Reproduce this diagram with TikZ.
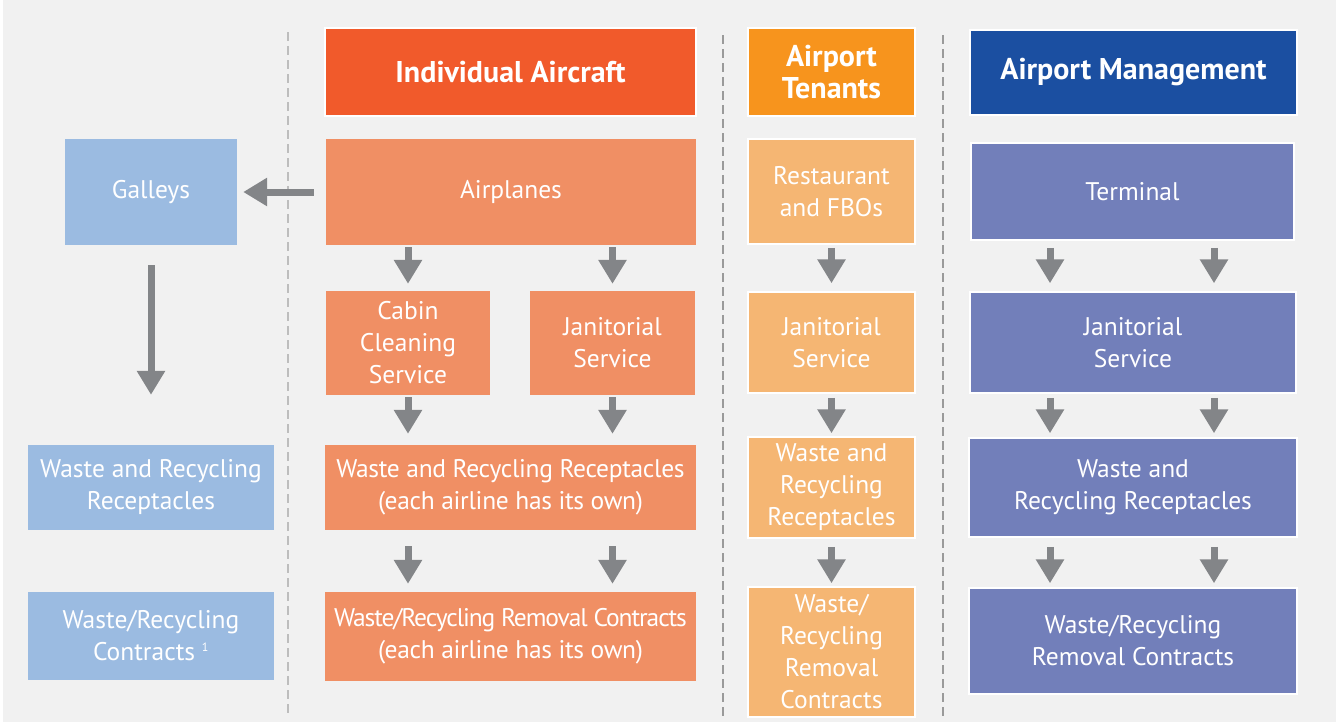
\documentclass[tikz,border=0pt]{standalone}
\usepackage{fontspec}
\setmainfont{PT Sans}
\newfontfamily\tightsans[LetterSpace=-4.3]{PT Sans}
\newfontfamily\snugsans[LetterSpace=-1.2]{PT Sans}
\usetikzlibrary{arrows.meta}

\definecolor{bggray}{HTML}{F1F1F1}
\definecolor{galleyblue}{HTML}{9BBBE1}
\definecolor{iahead}{HTML}{F15A2B}
\definecolor{iabody}{HTML}{F08F64}
\definecolor{athead}{HTML}{F7941D}
\definecolor{atbody}{HTML}{F5B673}
\definecolor{amhead}{HTML}{1B4FA1}
\definecolor{ambody}{HTML}{727FBA}
\definecolor{arrowgray}{HTML}{838588}
\definecolor{sepgray}{HTML}{BDBDBD}
\definecolor{sepdark}{HTML}{9A9A9A}

\tikzset{
  cell/.style={rectangle, inner sep=0pt, text=white, align=center,
    font=\fontsize{25.5}{32}\selectfont},
  headcell/.style={cell, draw=white, line width=2pt,
    font=\fontsize{30}{32}\selectfont\bfseries},
  leftcell/.style={cell, fill=galleyblue},
  iacell/.style={cell, fill=iabody},
  atcell/.style={cell, fill=atbody, draw=white, line width=1.5pt},
  amcell/.style={cell, fill=ambody, draw=white, line width=1.5pt},
  flow/.style={draw=arrowgray, line width=7pt,
    -{Triangle[width=27pt,length=24pt]}},
  sepline/.style={line width=2.5pt, dash pattern=on 9pt off 5pt},
}

\begin{document}
\begin{tikzpicture}[x=1pt,y=-1pt]
  % canvas
  \fill[white] (0,0) rectangle (1336,723);
  \fill[bggray] (3,0) rectangle (1336,722);
  \useasboundingbox (0,0) rectangle (1336,723);

  % column separators
  \draw[sepline, draw=sepgray] (288,32) -- (288,716);
  \draw[sepline, draw=sepdark] (723,35) -- (723,716);
  \draw[sepline, draw=sepdark] (943,35) -- (943,716);

  % left column
  \node[leftcell, minimum width=172pt, minimum height=106pt] (galleys) at (151,192) {Galleys};
  \node[leftcell, minimum width=246pt, minimum height=85pt] (lrecep) at (151,487.5)
    {Waste and Recycling\\Receptacles};
  \node[leftcell, minimum width=246pt, minimum height=88pt] (lcontr) at (151,636)
    {Waste/Recycling\\Contracts \textsuperscript{\fontsize{12}{12}\selectfont 1}};

  % individual aircraft column
  \node[headcell, fill=iahead, minimum width=371pt, minimum height=88pt] (iahdr) at (510.5,72)
    {Individual Aircraft};
  \node[iacell, minimum width=370pt, minimum height=106pt] (airplanes) at (511,192) {Airplanes};
  \node[iacell, minimum width=164pt, minimum height=104pt] (cabin) at (408,343)
    {Cabin\\Cleaning\\Service};
  \node[iacell, minimum width=165pt, minimum height=104pt] (iajan) at (612.5,343)
    {Janitorial\\Service};
  \node[iacell, minimum width=371pt, minimum height=85pt] (iarecep) at (510.5,487.5)
    {\snugsans Waste and Recycling Receptacles\\\snugsans (each airline has its own)};
  \node[iacell, minimum width=371pt, minimum height=89pt] (iacontr) at (510.5,636.5)
    {\tightsans Waste/Recycling Removal Contracts\\\snugsans (each airline has its own)};

  % airport tenants column
  \node[headcell, fill=athead, minimum width=167pt, minimum height=88pt] (athdr) at (831.5,72)
    {Airport\\Tenants};
  \node[atcell, minimum width=167pt, minimum height=105pt] (rest) at (831.5,191.5)
    {Restaurant\\and FBOs};
  \node[atcell, minimum width=167pt, minimum height=101pt] (atjan) at (831.5,342.5)
    {Janitorial\\Service};
  \node[atcell, minimum width=167pt, minimum height=101pt] (atrecep) at (831.5,487.5)
    {Waste and\\Recycling\\Receptacles};
  \node[atcell, minimum width=167pt, minimum height=130pt] (atcontr) at (831.5,652)
    {Waste/\\Recycling\\Removal\\Contracts};

  % airport management column
  \node[headcell, fill=amhead, minimum width=327pt, minimum height=85pt] (amhdr) at (1133.5,72.5)
    {Airport Management};
  \node[amcell, minimum width=323pt, minimum height=97pt] (terminal) at (1132.5,191.5) {Terminal};
  \node[amcell, minimum width=326pt, minimum height=101pt] (amjan) at (1133,342.5)
    {Janitorial\\Service};
  \node[amcell, minimum width=328pt, minimum height=99pt] (amrecep) at (1133,487.5)
    {Waste and\\Recycling Receptacles};
  \node[amcell, minimum width=328pt, minimum height=106pt] (amcontr) at (1133,641)
    {Waste/Recycling\\Removal Contracts};

  % arrow columns in the management lane
  \coordinate (amleft) at (1050,0);
  \coordinate (amright) at (1214,0);

  % left column flow
  \draw[flow, shorten <=12pt, shorten >=6pt] (airplanes.west) -- (galleys.east);
  \draw[flow, shorten <=20pt, shorten >=50pt] (galleys.south) -- (lrecep.north);

  % individual aircraft flow
  \draw[flow, shorten <=2pt, shorten >=7pt] (airplanes.south -| cabin.north) -- (cabin.north);
  \draw[flow, shorten <=2pt, shorten >=7pt] (airplanes.south -| iajan.north) -- (iajan.north);
  \draw[flow, shorten <=2pt, shorten >=11pt] (cabin.south) -- (iarecep.north -| cabin.south);
  \draw[flow, shorten <=2pt, shorten >=11pt] (iajan.south) -- (iarecep.north -| iajan.south);
  \draw[flow, shorten <=16pt, shorten >=8pt] (iarecep.south -| cabin.south) -- (iacontr.north -| cabin.south);
  \draw[flow, shorten <=16pt, shorten >=8pt] (iarecep.south -| iajan.south) -- (iacontr.north -| iajan.south);

  % airport tenants flow
  \draw[flow, shorten <=3pt, shorten >=8pt] (rest.south) -- (atjan.north);
  \draw[flow, shorten <=4pt, shorten >=3pt] (atjan.south) -- (atrecep.north);
  \draw[flow, shorten <=8pt, shorten >=3pt] (atrecep.south) -- (atcontr.north);

  % airport management flow
  \draw[flow, shorten <=7pt, shorten >=8pt] (terminal.south -| amleft) -- (amjan.north -| amleft);
  \draw[flow, shorten <=7pt, shorten >=8pt] (terminal.south -| amright) -- (amjan.north -| amright);
  \draw[flow, shorten <=4pt, shorten >=4pt] (amjan.south -| amleft) -- (amrecep.north -| amleft);
  \draw[flow, shorten <=4pt, shorten >=4pt] (amjan.south -| amright) -- (amrecep.north -| amright);
  \draw[flow, shorten <=9pt, shorten >=4pt] (amrecep.south -| amleft) -- (amcontr.north -| amleft);
  \draw[flow, shorten <=9pt, shorten >=4pt] (amrecep.south -| amright) -- (amcontr.north -| amright);
\end{tikzpicture}
\end{document}
